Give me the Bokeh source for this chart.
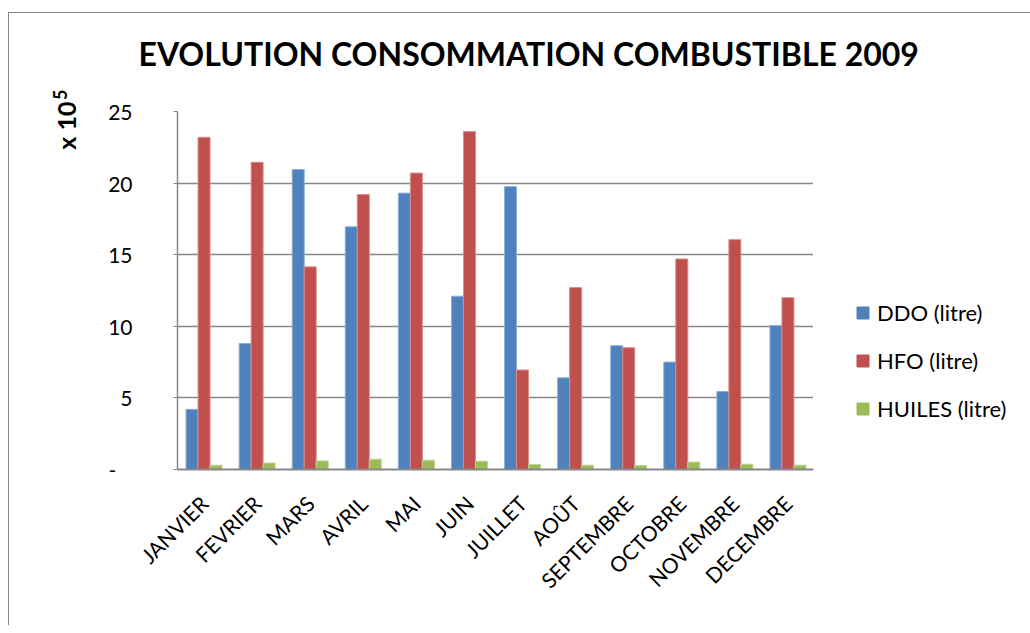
import math
from bokeh.plotting import figure
from bokeh.layouts import row, column
from bokeh.models import ColumnDataSource, FactorRange, FixedTicker, Legend, LegendItem, Title
from bokeh.transform import dodge
from bokeh.embed import file_html
from bokeh.resources import INLINE

months = ["JANVIER", "FEVRIER", "MARS", "AVRIL", "MAI", "JUIN", "JUILLET",
          "AOÛT", "SEPTEMBRE", "OCTOBRE", "NOVEMBRE", "DECEMBRE"]
ddo = [4.2, 8.8, 20.95, 16.95, 19.3, 12.1, 19.75, 6.4, 8.65, 7.5, 5.45, 10.05]
hfo = [23.2, 21.45, 14.15, 19.2, 20.7, 23.6, 6.95, 12.7, 8.5, 14.7, 16.05, 12.0]
huiles = [0.3, 0.45, 0.6, 0.72, 0.65, 0.58, 0.35, 0.3, 0.28, 0.52, 0.37, 0.3]
y_ticks = [0, 5, 10, 15, 20, 25]

title_text = "EVOLUTION CONSOMMATION COMBUSTIBLE 2009"
y_label = "x 10"
y_label_exp = "5"
colors = ["#4F81BD", "#C0504D", "#9BBB59"]
edges = ["#8DAFD8", "#D98C8A", "#BCD48E"]
names = ["DDO (litre)", "HFO (litre)", "HUILES (litre)"]

FONT = "Lato"
H_T = 68
src = ColumnDataSource(dict(m=months, ddo=ddo, hfo=hfo, huiles=huiles))

# title strip
tfig = figure(width=1022, height=H_T, output_backend="svg", toolbar_location=None,
              x_range=(0, 1), y_range=(0, 1), x_axis_type=None, y_axis_type=None,
              min_border=0, min_border_top=64)
tfig.margin = (12, 0, 0, 8)
tfig.styles = {"border-left": "1px solid #868686", "border-top": "1px solid #868686"}
tfig.outline_line_color = None
tfig.grid.grid_line_color = None
tfig.title = Title(text=title_text, align="left", offset=129, standoff=10,
                   text_font=FONT, text_font_style="bold", text_font_size="32px",
                   text_color="black")

p = figure(x_range=FactorRange(*months, range_padding=0), y_range=(0, 25),
           width=805, height=613 - H_T, output_backend="svg", toolbar_location=None,
           min_border_left=168, min_border_right=0, min_border_top=111 - 12 - H_T,
           min_border_bottom=156)
p.margin = (0, 0, 0, 8)
p.styles = {"border-left": "1px solid #868686"}
p.outline_line_color = None

bw = 0.226
r1 = p.vbar(x=dodge("m", -bw, range=p.x_range), top="ddo", width=bw, source=src,
            fill_color=colors[0], line_color=edges[0], line_width=1)
r2 = p.vbar(x=dodge("m", 0, range=p.x_range), top="hfo", width=bw, source=src,
            fill_color=colors[1], line_color=edges[1], line_width=1)
r3 = p.vbar(x=dodge("m", bw, range=p.x_range), top="huiles", width=bw, source=src,
            fill_color=colors[2], line_color=edges[2], line_width=1)

# axes
p.xgrid.grid_line_color = None
p.ygrid.grid_line_color = "#878787"
p.ygrid.grid_line_width = 1.5
p.yaxis.ticker = FixedTicker(ticks=y_ticks)
p.yaxis.major_label_overrides = {0: "-\u00a0\u00a0\u00a0"}
p.yaxis.axis_line_color = "#878787"
p.yaxis.axis_line_width = 1.5
p.yaxis.major_tick_line_color = "#878787"
p.yaxis.major_tick_out = 4
p.yaxis.major_tick_in = 0
p.yaxis.minor_tick_line_color = None
p.yaxis.major_label_standoff = 41
p.yaxis.major_label_text_font = FONT
p.yaxis.major_label_text_font_size = "21px"
p.yaxis.major_label_text_color = "black"

p.xaxis.axis_line_color = "#878787"
p.xaxis.axis_line_width = 2
p.xaxis.major_tick_line_color = None
p.xaxis.major_label_orientation = math.pi / 4
p.xaxis.major_label_standoff = 24
p.xaxis.major_label_text_font = FONT
p.xaxis.major_label_text_font_size = "21px"
p.xaxis.major_label_text_color = "black"

# y axis label x 10^5
p.add_layout(Title(text=y_label, align="right", offset=-10, standoff=50,
                   text_font=FONT, text_font_style="bold", text_font_size="25px",
                   text_color="black"), "left")
p.add_layout(Title(text=y_label_exp, align="right", offset=-22, standoff=-86,
                   text_font=FONT, text_font_style="bold", text_font_size="18px",
                   text_color="black"), "left")

# legend panel
p2 = figure(width=209, height=613 - H_T, output_backend="svg", toolbar_location=None,
            x_range=(0, 1), y_range=(0, 1), x_axis_type=None, y_axis_type=None,
            min_border=0)
p2.outline_line_color = None
p2.grid.grid_line_color = None
d1 = p2.vbar(x=[-10], top=[-10], width=0.1, fill_color=colors[0], line_color=colors[0])
d2 = p2.vbar(x=[-10], top=[-10], width=0.1, fill_color=colors[1], line_color=colors[1])
d3 = p2.vbar(x=[-10], top=[-10], width=0.1, fill_color=colors[2], line_color=colors[2])

legend = Legend(items=[LegendItem(label=names[0], renderers=[d1]),
                       LegendItem(label=names[1], renderers=[d2]),
                       LegendItem(label=names[2], renderers=[d3])],
                location=(42, 46), padding=0, margin=0, border_line_color=None,
                background_fill_alpha=0, glyph_width=15, glyph_height=15,
                label_height=30, spacing=18, label_standoff=7,
                label_text_font=FONT, label_text_font_size="22px",
                label_text_color="black")
p2.add_layout(legend, "center")

layout = column(tfig, row(p, p2))
open("out.html", "w").write(file_html(layout, INLINE))
